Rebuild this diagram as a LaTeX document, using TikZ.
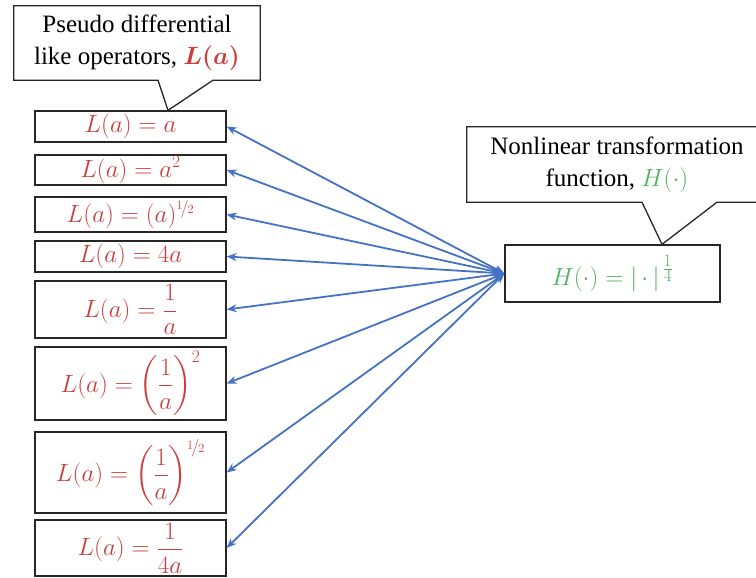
\RequirePackage{fix-cm}
\documentclass[tikz,border=0pt]{standalone}
\usepackage{amsmath,amssymb}
\usepackage{fontspec}
\setmainfont{Liberation Serif}
\usepackage{nicefrac}
\usetikzlibrary{arrows.meta,positioning,calc}
\definecolor{opred}{RGB}{204,62,62}
\definecolor{hgreen}{RGB}{78,178,98}
\definecolor{linkblue}{RGB}{70,114,196}

\begin{document}
\begin{tikzpicture}[
  x=1pt,y=-1pt,
  font=\rmfamily\fontsize{25}{32}\selectfont,
  opbox/.style={draw=black!85,line width=1.3pt,text=opred,
                minimum width=191pt,inner sep=0pt},
  hbox/.style={draw=black!85,line width=1.3pt,text=hgreen,
               minimum width=215pt,minimum height=57pt,inner sep=0pt},
  note/.style={align=center,inner sep=0pt},
  callout/.style={draw=black!85,line width=1.3pt},
  link/.style={{Stealth[length=10pt,width=8pt]}-{Stealth[length=10pt,width=8pt]},
               draw=linkblue,line width=1.8pt}
]
\useasboundingbox (0,0) rectangle (756,578);
\clip (0,0) rectangle (756,578);

% operators L(a)
\node[opbox,minimum height=31pt] (b1) at (130.5,126.5) {$L(a)=a$};
\node[opbox,minimum height=30pt] (b2) at (130.5,170) {$L(a)=a^2$};
\node[opbox,minimum height=35pt] (b3) at (130.5,214.5) {$L(a)=(a)^{\nicefrac{1}{2}}$};
\node[opbox,minimum height=31pt] (b4) at (130.5,256.5) {$L(a)=4a$};
\node[opbox,minimum height=57pt] (b5) at (130.5,309.5) {$L(a)=\dfrac{1}{a}$};
\node[opbox,minimum height=73pt] (b6) at (130.5,383.5) {$L(a)=\left(\dfrac{1}{a}\right)^{2}$};
\node[opbox,minimum height=81pt] (b7) at (130.5,472.5) {$L(a)=\left(\dfrac{1}{a}\right)^{\nicefrac{1}{2}}$};
\node[opbox,minimum height=56pt] (b8) at (130.5,548) {$L(a)=\dfrac{1}{4a}$};

% transformation H
\node[hbox] (hfun) at (612.5,273.5)
 {$H(\cdot)=\left|\,\cdot\,\right|^{\,\frac{\scriptstyle 1}{\scriptstyle 4}}$};

\foreach \i in {1,...,8}
  \draw[link] (hfun.west) -- (b\i.east);

% callouts
\node[note,minimum width=246pt,minimum height=74pt] (pdo) at (137,43)
 {Pseudo differential\\like operators, \textcolor{opred}{$\boldsymbol{L(a)}$}};
\draw[callout] (pdo.south west) -- (pdo.north west) -- (pdo.north east)
  -- (pdo.south east) -- ([xshift=76pt]pdo.south) -- ([xshift=37.5pt]b1.north)
  -- ([xshift=21pt]pdo.south) -- cycle;

\node[note,minimum width=300pt,minimum height=75pt] (nlt) at (617,164.5)
 {Nonlinear transformation\\function, \textcolor{hgreen}{$H(\cdot)$}};
\draw[callout] (nlt.south west) -- (nlt.north west) -- (nlt.north east)
  -- (nlt.south east) -- ([xshift=100pt]nlt.south) -- ([xshift=49.5pt]hfun.north)
  -- ([xshift=25pt]nlt.south) -- cycle;
\end{tikzpicture}
\end{document}
